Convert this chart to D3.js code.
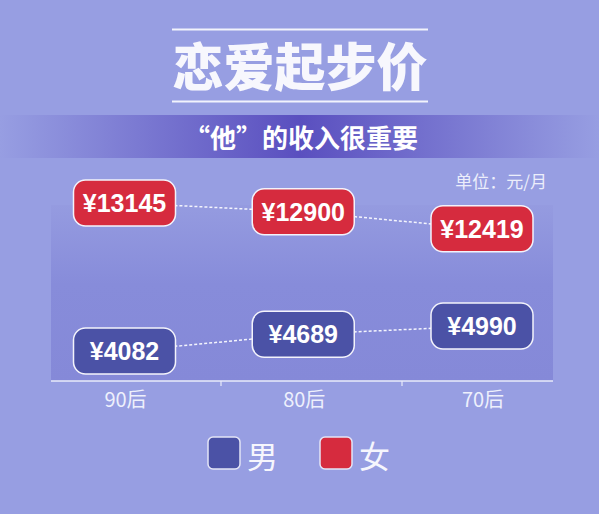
<!DOCTYPE html>
<html>
<head>
<meta charset="utf-8">
<script src="https://cdn.jsdelivr.net/npm/d3@7"></script>
<style>
  html, body { margin: 0; padding: 0; background: #979ee2; }
  svg { display: block; font-family: "Noto Sans CJK SC", "Noto Sans", sans-serif; }
</style>
</head>
<body>
<svg class="chart" width="599" height="514"></svg>
<script>
(function (window) {
    'use strict';

    var categories = ['90后', '80后', '70后'];
    var maleValues = [4082, 4689, 4990];
    var femaleValues = [13145, 12900, 12419];
    var seriesNames = ['男', '女'];
    var seriesColors = ['#4b52a6', '#d62b3e'];

    var svg = d3.select('.chart');
    var defs = svg.append('defs');

    // background
    svg.append('rect').attr('width', 599).attr('height', 514).attr('fill', '#979ee2');

    // subtitle band gradient
    var band = defs.append('linearGradient').attr('id', 'band');
    band.append('stop').attr('offset', '0%').attr('stop-color', '#979ee2');
    band.append('stop').attr('offset', '50%').attr('stop-color', '#5a4fbf');
    band.append('stop').attr('offset', '100%').attr('stop-color', '#979ee2');

    var plotGrad = defs.append('linearGradient').attr('id', 'plot')
        .attr('x1', 0).attr('y1', 0).attr('x2', 0).attr('y2', 1);
    plotGrad.append('stop').attr('offset', '0%').attr('stop-color', '#959be0');
    plotGrad.append('stop').attr('offset', '45%').attr('stop-color', '#878cda');
    plotGrad.append('stop').attr('offset', '100%').attr('stop-color', '#8589d8');

    // title
    svg.selectAll('.title-line').data([29.5, 101.5]).enter()
        .append('line')
        .attr('x1', 172).attr('x2', 428)
        .attr('y1', function (d) { return d; })
        .attr('y2', function (d) { return d; })
        .attr('stroke', '#f2f3fc').attr('stroke-width', 2);

    svg.append('text')
        .attr('x', 300).attr('y', 64)
        .attr('text-anchor', 'middle').attr('dominant-baseline', 'central')
        .attr('font-size', 51).attr('font-weight', 900)
        .attr('fill', '#f7f7fd')
        .text('恋爱起步价');

    svg.append('rect')
        .attr('x', 0).attr('y', 115).attr('width', 599).attr('height', 43)
        .attr('fill', 'url(#band)');

    svg.append('text')
        .attr('x', 301).attr('y', 136.5)
        .attr('text-anchor', 'middle').attr('dominant-baseline', 'central')
        .attr('font-size', 26).attr('font-weight', 700)
        .attr('fill', '#ffffff')
        .text('“他”的收入很重要');

    svg.append('text')
        .attr('x', 547).attr('y', 180)
        .attr('text-anchor', 'end').attr('dominant-baseline', 'central')
        .attr('font-size', 17)
        .attr('fill', '#eceefb')
        .text('单位：元/月');

    // plot area
    var left = 51, right = 553, top = 205, bottom = 381;
    svg.append('rect')
        .attr('x', left).attr('y', top)
        .attr('width', right - left).attr('height', bottom - top)
        .attr('fill', 'url(#plot)');

    var x = d3.scalePoint().domain(categories).range([124.5, 482]);
    var xBand = d3.scaleBand().domain(categories).range([40, 583]);
    // broken value scale: low part for 男, high part for 女
    var y = d3.scaleLinear()
        .domain([4000, 5000, 12400, 13200])
        .range([353.3, 325.7, 229.5, 201.1]);

    // axis
    svg.append('line')
        .attr('x1', left).attr('x2', right)
        .attr('y1', bottom).attr('y2', bottom)
        .attr('stroke', '#e9ebfa').attr('stroke-width', 1.5);

    svg.selectAll('.tick').data(categories.slice(1)).enter()
        .append('line')
        .attr('x1', function (d) { return xBand(d); })
        .attr('x2', function (d) { return xBand(d); })
        .attr('y1', bottom).attr('y2', bottom + 5)
        .attr('stroke', '#e9ebfa').attr('stroke-width', 1.2);

    svg.selectAll('.xlabel').data(categories).enter()
        .append('text')
        .attr('x', function (d) { return x(d) + 1; })
        .attr('y', 398)
        .attr('text-anchor', 'middle').attr('dominant-baseline', 'central')
        .attr('font-size', 20)
        .attr('fill', '#eef0fc')
        .text(function (d) { return d; });

    // series
    var series = [maleValues, femaleValues];
    var line = d3.line()
        .x(function (d, i) { return x(categories[i]); })
        .y(function (d) { return y(d); });

    svg.selectAll('.link').data(series).enter()
        .append('path')
        .attr('d', function (d) { return line(d); })
        .attr('fill', 'none')
        .attr('stroke', '#f4f5fd')
        .attr('stroke-width', 1.5)
        .attr('stroke-dasharray', '3,2');

    var boxW = 102, boxH = 46;
    series.forEach(function (vals, s) {
        var g = svg.selectAll('.lbl' + s).data(vals).enter()
            .append('g')
            .attr('transform', function (d, i) {
                return 'translate(' + x(categories[i]) + ',' + y(d) + ')';
            });
        g.append('rect')
            .attr('x', -boxW / 2).attr('y', -boxH / 2)
            .attr('width', boxW).attr('height', boxH)
            .attr('rx', 12).attr('ry', 12)
            .attr('fill', seriesColors[s])
            .attr('stroke', '#f3f3fb').attr('stroke-width', 1.5);
        g.append('text')
            .attr('text-anchor', 'middle').attr('dominant-baseline', 'central')
            .attr('y', 0)
            .attr('font-family', '"Liberation Sans", Arial, sans-serif')
            .attr('font-size', 25).attr('font-weight', 700)
            .attr('fill', '#ffffff')
            .text(function (d) { return '¥' + d; });
    });

    // legend
    var legend = svg.selectAll('.legend').data(seriesNames).enter()
        .append('g')
        .attr('transform', function (d, i) { return 'translate(' + (208 + i * 112) + ',437)'; });
    legend.append('rect')
        .attr('width', 32).attr('height', 32)
        .attr('rx', 5).attr('ry', 5)
        .attr('fill', function (d, i) { return seriesColors[i]; })
        .attr('stroke', '#e4e5f6').attr('stroke-width', 1.5);
    legend.append('text')
        .attr('x', 39).attr('y', 17)
        .attr('dominant-baseline', 'central')
        .attr('font-size', 31)
        .attr('fill', '#f6f6fd')
        .text(function (d) { return d; });

})(window);
</script>
</body>
</html>
